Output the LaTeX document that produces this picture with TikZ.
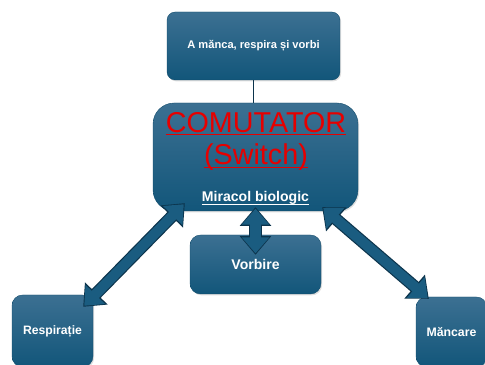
\documentclass[tikz,border=0pt]{standalone}
\usepackage{fontspec}
\setmainfont{Liberation Sans}
\usetikzlibrary{arrows.meta,shadows}
\definecolor{boxtop}{RGB}{60,112,146}
\definecolor{boxbot}{RGB}{18,86,122}
\definecolor{arrfill}{RGB}{26,92,128}
\definecolor{arredge}{RGB}{12,52,76}
\definecolor{switchred}{RGB}{230,0,0}
\tikzset{
  blok/.style={rounded corners=9pt, top color=boxtop, bottom color=boxbot, draw=boxbot!85!black,
    line width=0.3pt, text=white, align=center, inner sep=0pt,
    drop shadow={opacity=0.25, shadow xshift=1pt, shadow yshift=-1.2pt}},
  titlu/.style={anchor=base, inner sep=0pt},
  sublinie/.style={line width=0.8pt},
  sagout/.style={draw=arredge, line width=10.6pt,
    {Triangle[width=26pt,length=16pt]}-{Triangle[width=26pt,length=16pt]}},
  sagin/.style={draw=arrfill, line width=8.6pt, shorten <=1.3pt, shorten >=1.3pt,
    {Triangle[width=22.5pt,length=13.5pt]}-{Triangle[width=22.5pt,length=13.5pt]}}
}
\begin{document}
\begin{tikzpicture}
  \useasboundingbox (0,0) rectangle (14.55,10.95);
  % boxes
  \node[blok, rounded corners=7pt, minimum width=5.19cm, minimum height=2.04cm,
        font=\fontsize{9.5}{11}\selectfont\bfseries] (scop) at (7.605,9.57) {A mănca, respira și vorbi};
  \node[blok, rounded corners=18pt, minimum width=6.15cm, minimum height=3.24cm] (comut) at (7.665,6.24) {};
  \node[blok, minimum width=3.93cm, minimum height=1.77cm,
        font=\fontsize{12}{14}\selectfont\bfseries] (vorb) at (7.665,3.015) {Vorbire};
  \node[blok, minimum width=2.43cm, minimum height=2.16cm,
        font=\fontsize{10.4}{12}\selectfont\bfseries] (resp) at (1.575,1.02) {Respirație};
  \node[blok, minimum width=2.13cm, minimum height=2.1cm,
        font=\fontsize{10.5}{12}\selectfont\bfseries] (manc) at (13.545,0.99) {Măncare};
  % texts of the switch
  \node[titlu, text=switchred, font=\fontsize{24.5}{26}\selectfont] (comutT) at (7.68,6.96) {COMUTATOR};
  \node[titlu, text=switchred, font=\fontsize{24.5}{26}\selectfont] (switchT) at (7.68,6.0) {(Switch)};
  \node[titlu, text=white, font=\fontsize{12}{14}\selectfont\bfseries] (miracT) at (7.665,4.89) {Miracol biologic};
  \draw[sublinie, switchred] ([yshift=-1.6pt]comutT.base west) -- ([yshift=-1.6pt]comutT.base east);
  \draw[sublinie, switchred] ([yshift=-2.4pt]switchT.base west) -- ([yshift=-2.4pt]switchT.base east);
  \draw[sublinie, white] ([yshift=-1.8pt]miracT.base west) -- ([yshift=-1.8pt]miracT.base east);
  % connectors
  \draw[arredge, line width=0.8pt] (scop.south) -- (scop.south |- comut.north);
  \draw[sagout] ([shift={(0.96,0.24)}]comut.south west) -- ([shift={(-0.30,-0.36)}]resp.north east);
  \draw[sagin]  ([shift={(0.96,0.24)}]comut.south west) -- ([shift={(-0.30,-0.36)}]resp.north east);
  \draw[sagout] ([yshift=0.12cm]comut.south) -- ([yshift=-0.6cm]vorb.north);
  \draw[sagin]  ([yshift=0.12cm]comut.south) -- ([yshift=-0.6cm]vorb.north);
  \draw[sagout] ([shift={(-1.08,0.12)}]comut.south east) -- ([shift={(0.39,-0.06)}]manc.north west);
  \draw[sagin]  ([shift={(-1.08,0.12)}]comut.south east) -- ([shift={(0.39,-0.06)}]manc.north west);
\end{tikzpicture}
\end{document}
